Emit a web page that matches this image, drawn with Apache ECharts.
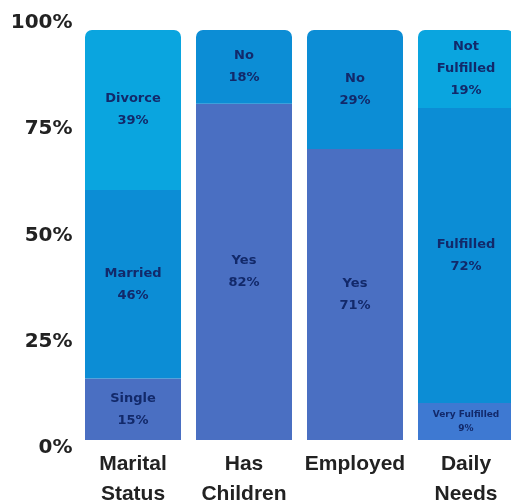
<!DOCTYPE html>
<html>
<head>
<meta charset="utf-8">
<script src="https://cdn.jsdelivr.net/npm/echarts@6/dist/echarts.min.js"></script>
<style>html,body{margin:0;padding:0;background:#fff}#c{width:511px;height:504px}</style>
</head>
<body>
<div id="c"></div>
<script>
var categories = ['Marital\nStatus', 'Has\nChildren', 'Employed', 'Daily\nNeeds'];
var yTicks = ['0%', '25%', '50%', '75%', '100%'];
// stacked layers, bottom to top
var bottomValues = [15, 82, 71, 9];
var bottomNames = ['Single', 'Yes', 'Yes', 'Very Fulfilled'];
var middleValues = [46, 18, 29, 72];
var middleNames = ['Married', 'No', 'No', 'Fulfilled'];
var topValues = [39, null, null, 19];
var topNames = ['Divorce', '', '', 'Not\nFulfilled'];

var cLight = '#0aa5df', cMid = '#0c8dd5', cSlate = '#4a6fc2', cVery = '#3e79d2';
var bottomColors = [cSlate, cSlate, cSlate, cVery];
var middleColors = [cMid, cMid, cMid, cMid];
var topColors = [cLight, null, null, cLight];
var topIdx = [2, 1, 1, 2]; // which layer is the top one per category

function mk(values, names, colors, layer) {
  return values.map(function (v, i) {
    if (v == null) return null;
    var isTop = topIdx[i] === layer;
    var small = names[i] === 'Very Fulfilled';
    return {
      value: v,
      name: names[i],
      itemStyle: { color: colors[i], borderRadius: isTop ? [7, 7, 0, 0] : 0 },
      label: small ? { fontSize: 9, lineHeight: 14 } : {}
    };
  });
}

var labelStyle = {
  show: true, position: 'inside', color: '#12296a', fontWeight: 'bold',
  fontFamily: 'DejaVu Sans', fontSize: 13, lineHeight: 22,
  formatter: function (p) { return p.data.name + '\n' + p.data.value + '%'; }
};

var chart = echarts.init(document.getElementById('c'), null, { renderer: 'canvas' });
chart.setOption({
  animation: false,
  grid: [
    { left: 77.5, width: 444, top: 30, height: 410, outerBoundsMode: 'none', containLabel: false },
    { left: 77.5, width: 444, top: 23, height: 425, outerBoundsMode: 'none', containLabel: false }
  ],
  xAxis: [
    {
      type: 'category', data: categories, gridIndex: 0,
      axisLine: { show: false }, axisTick: { show: false },
      axisLabel: { interval: 0, margin: 9, color: '#222', fontWeight: 'bold', fontSize: 21,
        lineHeight: 30, fontFamily: 'Liberation Sans', verticalAlign: 'top', hideOverlap: false }
    },
    { type: 'category', data: categories, gridIndex: 1, show: false }
  ],
  yAxis: [
    { type: 'value', min: 0, max: 100, gridIndex: 0, show: false },
    {
      type: 'value', min: 0, max: 100, interval: 25, gridIndex: 1,
      axisLine: { show: false }, axisTick: { show: false }, splitLine: { show: false },
      axisLabel: { margin: 5, color: '#222', fontWeight: 'bold', fontSize: 20,
        fontFamily: 'DejaVu Sans',
        formatter: function (v) { return yTicks[v / 25]; } }
    }
  ],
  series: [
    { type: 'bar', stack: 's', barWidth: 96, data: mk(bottomValues, bottomNames, bottomColors, 0), label: labelStyle },
    { type: 'bar', stack: 's', barWidth: 96, data: mk(middleValues, middleNames, middleColors, 1), label: labelStyle },
    { type: 'bar', stack: 's', barWidth: 96, data: mk(topValues, topNames, topColors, 2), label: labelStyle }
  ]
});
</script>
</body>
</html>
